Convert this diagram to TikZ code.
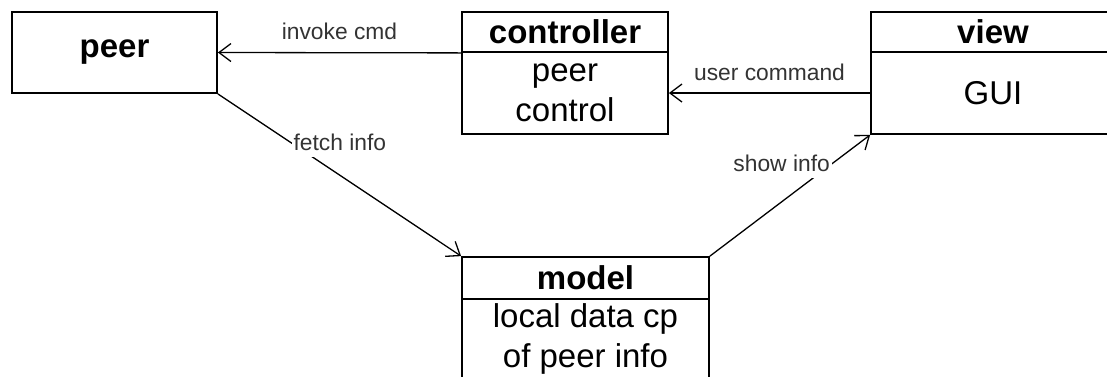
\documentclass[tikz,border=0pt]{standalone}
\usepackage{fontspec}
\setmainfont{Liberation Sans}
\usetikzlibrary{arrows.meta}
\newcommand{\classbox}[8]{
  \node [box, minimum width=#3, minimum height={#5-#4}] (#1head) at (#2,{(#4+#5)/2}) {\bfseries #7};
  \node [box, minimum width=#3, minimum height={#6-#5}] (#1body) at (#2,{(#5+#6)/2}) {#8};
}

\begin{document}
\begin{tikzpicture}[x=1pt,y=-1pt,line width=1.3pt,
    box/.style={draw,line width=1.8pt,inner sep=0pt,align=center,font=\fontsize{33}{40}\selectfont},
    lbl/.style={font=\fontsize{22.8}{26}\selectfont,inner sep=2pt,text=black!80},
    >={Straight Barb[length=12pt,width=18pt]}]
  \useasboundingbox (0,0) rectangle (1107,376);
  \node [box, minimum width=205, minimum height=81] (peer) at (114.5,52.5) {\bfseries peer};
  \classbox{ctrl}{565}{206}{12}{52}{134}{controller}{peer\\control}
  \classbox{view}{993}{244}{12}{52}{134}{view}{GUI}
  \classbox{model}{585.5}{247}{257}{299}{378}{model}{local data cp\\of peer info}
  \draw [->] (ctrlhead.south west) to node [lbl, above=10pt] {invoke cmd} (peer.east);
  \draw [->] (viewbody.west) to node [lbl, above=10pt] {user command} (ctrlbody.east);
  \draw [->] (peer.south east) to node [lbl, pos=.3, anchor=west, fill=white, inner ysep=6pt] {fetch info} (modelhead.north west);
  \draw [->] (modelhead.north east) to node [lbl, pos=.765, anchor=east, fill=white, inner ysep=6pt] {show info} (viewbody.south west);
\end{tikzpicture}
\end{document}
